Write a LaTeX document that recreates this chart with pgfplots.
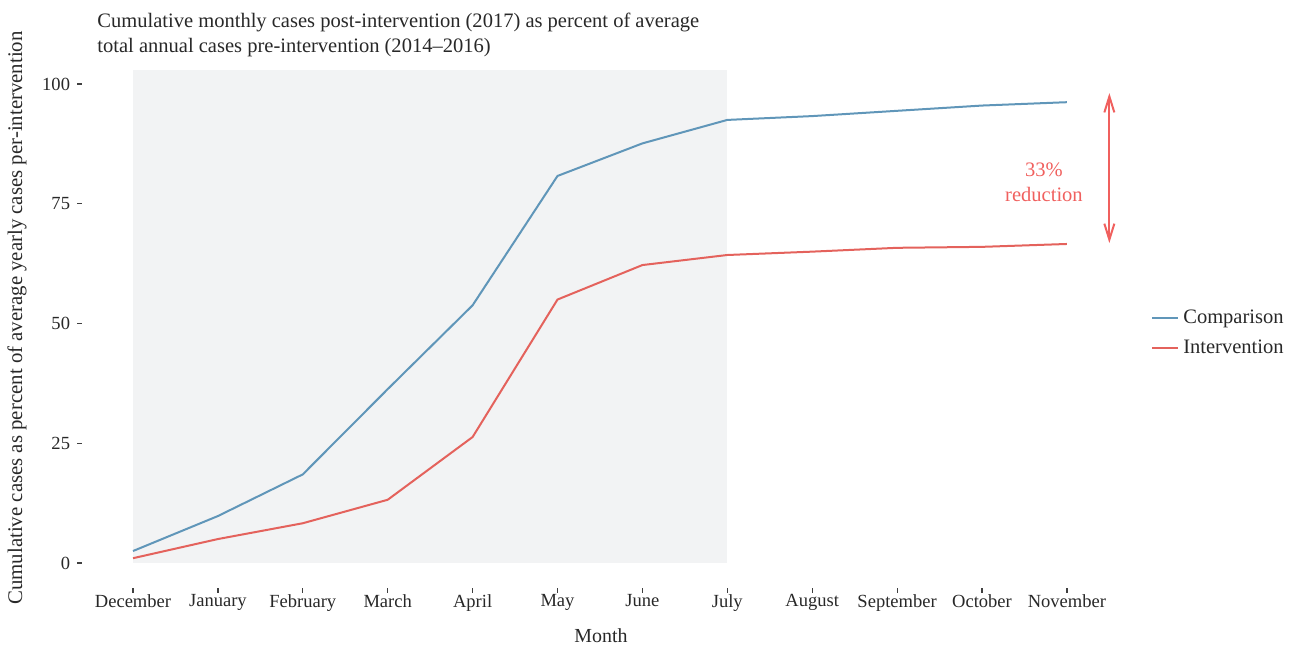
\documentclass[border=0pt]{standalone}
\usepackage{fontspec}
\setmainfont{Liberation Serif}
\usepackage{pgfplots}
\pgfplotsset{compat=1.18}
\usetikzlibrary{arrows.meta}
\definecolor{cblue}{RGB}{96,150,185}
\definecolor{cred}{RGB}{228,98,92}
\definecolor{tred}{RGB}{240,96,94}
\definecolor{bgrect}{RGB}{242,243,244}
\definecolor{txt}{RGB}{40,40,40}
\begin{document}
\begin{tikzpicture}
\useasboundingbox (-66.5bp,-42bp) rectangle (583bp,281.5bp);
\begin{axis}[
  anchor=origin, at={(0,0)},
  x=42.45bp, y=2.395bp,
  xmin=-0.6, xmax=11.75, ymin=-5.15, ymax=108.15,
  axis line style={draw=none},
  clip=false,
  tick align=outside,
  xtick pos=bottom, ytick pos=left,
  major tick length=2.5bp,
  tick style={black!75, line width=0.6bp},
  xtick={0,...,11},
  xticklabels={December,January,February,March,April,May,June,July,August,September,October,November},
  ytick={0,25,50,75,100},
  ticklabel style={font=\fontsize{9.3}{11}\selectfont, text=txt},
  xticklabel style={yshift=2.5bp},
  /pgf/number format/assume math mode=true,
  legend style={at={(1.0137,0.469)}, anchor=west, draw=none, fill=none,
    font=\fontsize{10.3}{12}\selectfont, text=txt, row sep=3bp,
    /tikz/every even column/.append style={column sep=2bp}},
  legend cell align=left,
  legend image code/.code={\draw[#1] (0bp,0bp) -- (13bp,0bp);},
]
\fill[bgrect] (axis cs:0,0) rectangle (axis cs:7,103);
\addplot[cblue, line width=1bp] coordinates {
(0,2.5) (1,9.8) (2,18.5) (3,36.3) (4,53.8) (5,80.8) (6,87.6) (7,92.5) (8,93.3) (9,94.4) (10,95.5) (11,96.2)};
\addlegendentry{Comparison}
\addplot[cred, line width=1bp] coordinates {
(0,1.0) (1,5.0) (2,8.3) (3,13.2) (4,26.3) (5,55.0) (6,62.2) (7,64.3) (8,65.0) (9,65.8) (10,66.0) (11,66.6)};
\addlegendentry{Intervention}
\addplot[tred, line width=1bp, forget plot, {Straight Barb[length=8bp,width=5bp]}-{Straight Barb[length=8bp,width=5bp]}] coordinates {(11.5,66.8) (11.5,98.1)};
\node[tred, font=\fontsize{10.3}{12.5}\selectfont, align=center] at (axis cs:10.73,79.5) {33\%\\reduction};
\end{axis}
\node[anchor=base west, font=\fontsize{10.3}{12}\selectfont, text=txt, inner sep=0] at (-18bp,267.5bp) {Cumulative monthly cases post-intervention (2017) as percent of average};
\node[anchor=base west, font=\fontsize{10.3}{12}\selectfont, text=txt, inner sep=0] at (-18bp,255bp) {total annual cases pre-intervention (2014--2016)};
\node[rotate=90, font=\fontsize{10.45}{12}\selectfont, text=txt, inner sep=0] at (-58bp,122.5bp) {Cumulative cases as percent of average yearly cases per-intervention};
\node[font=\fontsize{10}{12}\selectfont, text=txt, inner sep=0] at (234bp,-36.5bp) {Month};
\end{tikzpicture}
\end{document}
